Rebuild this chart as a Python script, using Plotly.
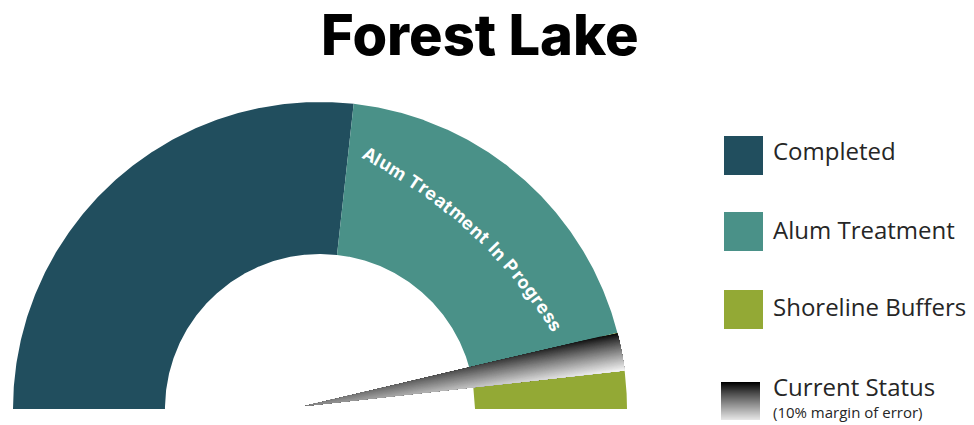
import numpy as np
import plotly.graph_objects as go

# ---- data -------------------------------------------------------------
title_text = "Forest Lake"

# gauge segments, in percent of the half circle (left -> right)
segment_names = ["Completed", "Alum Treatment", "Shoreline Buffers"]
segment_values = [53.5, 38.5, 8.0]
segment_colors = ["#214e5e", "#4a9188", "#93a935"]

# current status band, percent positions on the gauge
status_range = [92.0, 96.0]
status_label = "Current Status"
status_note = "(10% margin of error)"

arc_label = "Alum Treatment In Progress"

# ---- geometry / style -------------------------------------------------
W, H = 974, 425
PX = 307.0                  # pixels per unit radius
CX, CY = 320.0, 409.0       # gauge centre, in pixels
R_OUT, R_IN = 1.0, 0.505
NEEDLE_PIVOT = (-15 / PX, 3 / PX)

# circle the curved label follows (data units)
LABEL_C = ((148.7 - CX) / PX, (CY - 582.5) / PX)
LABEL_R = 481.0 / PX
LABEL_MID_DEG = 47.6
LABEL_SIZE = 18
LABEL_TRACK = 1.0           # extra px between letters


def pct_to_angle(p):
    return np.pi * (1 - p / 100.0)


def ring_sector(p0, p1, n=240):
    a = np.linspace(pct_to_angle(p0), pct_to_angle(p1), n)
    x = np.concatenate([R_OUT * np.cos(a), R_IN * np.cos(a[::-1])])
    y = np.concatenate([R_OUT * np.sin(a), R_IN * np.sin(a[::-1])])
    return np.append(x, x[0]), np.append(y, y[0])


def clip_halfplane(pts, nx, ny, d):
    out = []
    n = len(pts)
    for i in range(n):
        x1, y1 = pts[i]
        x2, y2 = pts[(i + 1) % n]
        f1 = nx * x1 + ny * y1 - d
        f2 = nx * x2 + ny * y2 - d
        if f1 <= 0:
            out.append((x1, y1))
        if (f1 <= 0) != (f2 <= 0):
            t = f1 / (f1 - f2)
            out.append((x1 + t * (x2 - x1), y1 + t * (y2 - y1)))
    return out


fig = go.Figure()

# ring segments
starts = np.concatenate([[0.0], np.cumsum(segment_values)[:-1]])
for name, s, v, c in zip(segment_names, starts, segment_values, segment_colors):
    x, y = ring_sector(s, s + v)
    fig.add_trace(go.Scatter(x=x, y=y, mode="lines", fill="toself",
                             fillcolor=c, line=dict(width=0, color=c),
                             name=name, hoverinfo="skip", showlegend=False))

# status needle: wedge from the pivot to the outer rim, shaded across its width
a_top, a_bot = pct_to_angle(status_range[0]), pct_to_angle(status_range[1])
arc_a = np.linspace(a_top, a_bot, 80)
wedge = [NEEDLE_PIVOT] + [(R_OUT * np.cos(a), R_OUT * np.sin(a)) for a in arc_a]
a_mid = 0.5 * (a_top + a_bot)
ux = R_OUT * np.cos(a_mid) - NEEDLE_PIVOT[0]
uy = R_OUT * np.sin(a_mid) - NEEDLE_PIVOT[1]
L = np.hypot(ux, uy)
nx, ny = -uy / L, ux / L
proj = [nx * px + ny * py for px, py in wedge]
dmin, dmax = min(proj), max(proj)
N = 70
step = (dmax - dmin) / N
for k in range(N):
    d = dmax - k * step
    t = (d - 0.5 * step - dmin) / (dmax - dmin)
    g = int(round(246 * (1 - t) ** 0.85))
    poly = wedge if k == 0 else clip_halfplane(wedge, nx, ny, d)
    if len(poly) < 3:
        continue
    xs = [p[0] for p in poly] + [poly[0][0]]
    ys = [p[1] for p in poly] + [poly[0][1]]
    col = f"rgb({g},{g},{g})"
    fig.add_trace(go.Scatter(x=xs, y=ys, mode="lines", fill="toself",
                             fillcolor=col, line=dict(width=0, color=col),
                             hoverinfo="skip", showlegend=False))

# curved label, one letter at a time
em = {"A": .70, "l": .27, "u": .60, "m": .90, " ": .26, "T": .63, "r": .40,
      "e": .58, "a": .56, "t": .37, "n": .60, "I": .29, "P": .65, "o": .60,
      "g": .60, "s": .53}
adv = [em.get(ch, .6) * LABEL_SIZE + LABEL_TRACK for ch in arc_label]
total = sum(adv) - LABEL_TRACK
R_px = LABEL_R * PX
phi0 = np.radians(LABEL_MID_DEG) + (total / 2) / R_px
s = 0.0
for ch, a in zip(arc_label, adv):
    sc = s + (a - LABEL_TRACK) / 2
    phi = phi0 - sc / R_px
    s += a
    if ch == " ":
        continue
    fig.add_annotation(x=LABEL_C[0] + LABEL_R * np.cos(phi),
                       y=LABEL_C[1] + LABEL_R * np.sin(phi),
                       xref="x", yref="y", text=ch, showarrow=False,
                       textangle=90 - np.degrees(phi),
                       xanchor="center", yanchor="middle",
                       font=dict(family="Inter", size=LABEL_SIZE,
                                 color="white", weight=700))

# title
fig.add_annotation(x=480 / W, y=1 - 35 / H, xref="paper", yref="paper",
                   text=title_text, showarrow=False, xanchor="center",
                   yanchor="middle",
                   font=dict(family="Inter", size=56, color="black", weight=800))


def px_rect(x0, y0, x1, y1, color):
    fig.add_shape(type="rect", xref="paper", yref="paper",
                  x0=x0 / W, x1=x1 / W, y0=1 - y1 / H, y1=1 - y0 / H,
                  fillcolor=color, line=dict(width=0), layer="above")


legend_font = dict(family="Open Sans", size=24, color="#262626")
swatch_rows = [(136, 175, 150), (212, 251, 229), (290, 329, 306)]
for (y0, y1, ty), name, c in zip(swatch_rows, segment_names, segment_colors):
    px_rect(724, y0, 763, y1, c)
    fig.add_annotation(x=771 / W, y=1 - ty / H, xref="paper", yref="paper",
                       text=name, showarrow=False, xanchor="left",
                       yanchor="middle", font=legend_font)

# gradient swatch for the status needle
gy0, gy1 = 382, 420
for i in range(gy1 - gy0):
    t = i / (gy1 - gy0 - 1)
    g = int(round(228 * t ** 0.9))
    px_rect(721, gy0 + i, 760, gy1, f"rgb({g},{g},{g})")
fig.add_annotation(x=771 / W, y=1 - 386 / H, xref="paper", yref="paper",
                   text=status_label, showarrow=False, xanchor="left",
                   yanchor="middle", font=legend_font)
fig.add_annotation(x=771 / W, y=1 - 424 / H, xref="paper", yref="paper",
                   text=status_note, showarrow=False, xanchor="left",
                   yanchor="bottom",
                   font=dict(family="Open Sans", size=15, color="#262626"))

fig.update_xaxes(range=[-CX / PX, (W - CX) / PX], visible=False,
                 domain=[0, 1], fixedrange=True)
fig.update_yaxes(range=[-(H - CY) / PX, CY / PX], visible=False,
                 domain=[0, 1], fixedrange=True)
fig.update_layout(width=W, height=H, margin=dict(l=0, r=0, t=0, b=0),
                  paper_bgcolor="white", plot_bgcolor="white",
                  hovermode=False, showlegend=False)

fig.write_html("out.html", config={"displayModeBar": False})
